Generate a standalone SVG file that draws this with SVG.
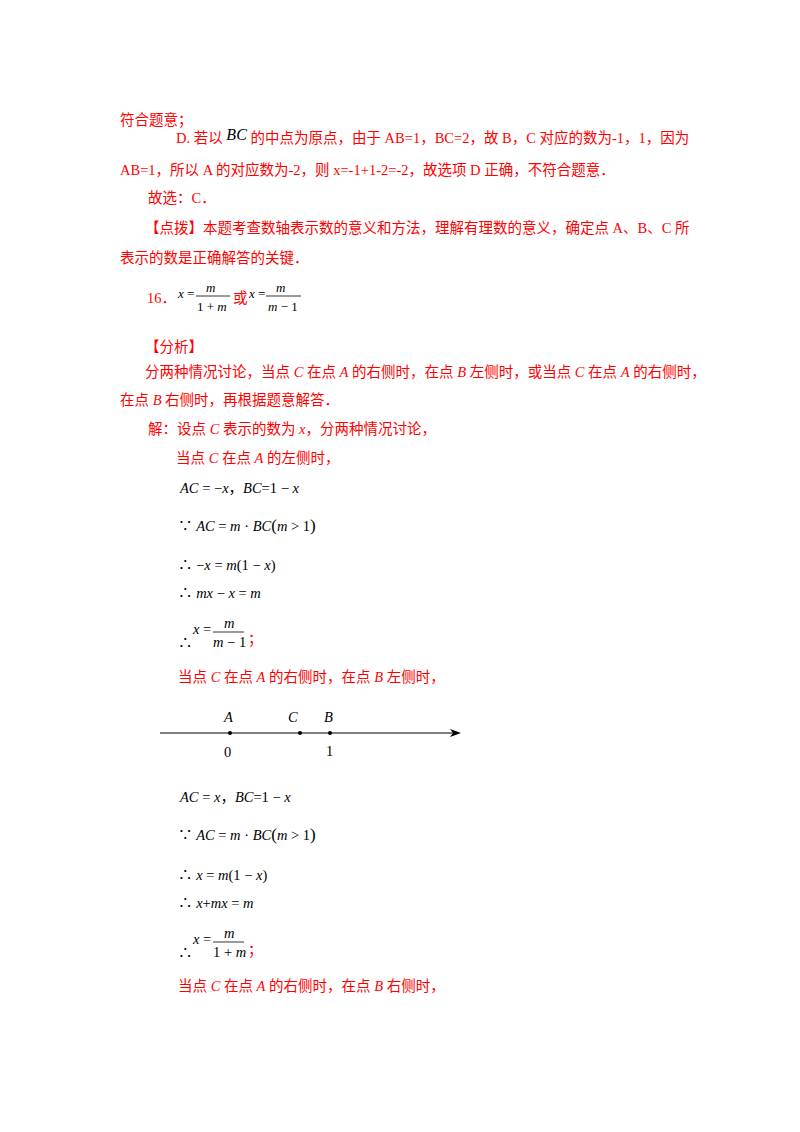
<svg xmlns="http://www.w3.org/2000/svg" width="800" height="1132" viewBox="0 0 800 1132">
<style>
.r{fill:#ff0000;font-family:"Liberation Serif","Noto Sans CJK SC",serif;font-size:14.5px}
.m{fill:#000;font-family:"Liberation Serif","Noto Sans CJK SC",serif;font-size:14.5px}
.s{fill:#000;font-family:"Liberation Serif","Noto Sans CJK SC",serif;font-size:13px}
.i{font-style:italic}
.fl{stroke:#000;stroke-width:0.8}
</style>
<rect width="800" height="1132" fill="#fff"/>
<g id="text-top">
<text class="r" x="120" y="125">符合题意；</text>
<text class="r" x="176" y="143">D. 若以 <tspan class="i" fill="#000" font-size="16" dy="-3">BC</tspan><tspan dy="3"> 的中点为原点，由于 AB=1，BC=2，故 B，C 对应的数为-1，1，因为</tspan></text>
<text class="r" x="120" y="175">AB=1，所以 A 的对应数为-2，则 x=-1+1-2=-2，故选项 D 正确，不符合题意．</text>
<text class="r" x="148" y="203">故选：C．</text>
<text class="r" x="145" y="233">【点拨】本题考查数轴表示数的意义和方法，理解有理数的意义，确定点 A、B、C 所</text>
<text class="r" x="120" y="263">表示的数是正确解答的关键．</text>
<text class="r" x="147" y="303">16．</text>
<text class="s" x="178" y="298"><tspan class="i">x</tspan> =</text>
<text class="s i" x="206" y="292">m</text>
<line class="fl" x1="196" y1="296" x2="230" y2="296"/>
<text class="s" x="197" y="311">1 + <tspan class="i">m</tspan></text>
<text class="r" x="233" y="303">或</text>
<text class="s" x="249" y="298"><tspan class="i">x</tspan> =</text>
<text class="s i" x="276" y="292">m</text>
<line class="fl" x1="266" y1="296" x2="301" y2="296"/>
<text class="s" x="268" y="311"><tspan class="i">m</tspan> − 1</text>
<text class="r" x="145" y="352">【分析】</text>
<text class="r" x="145" y="377">分两种情况讨论，当点 <tspan class="i">C</tspan> 在点 <tspan class="i">A</tspan> 的右侧时，在点 <tspan class="i">B</tspan> 左侧时，或当点 <tspan class="i">C</tspan> 在点 <tspan class="i">A</tspan> 的右侧时，</text>
<text class="r" x="120" y="405">在点 <tspan class="i">B</tspan> 右侧时，再根据题意解答．</text>
<text class="r" x="148" y="434">解：设点 <tspan class="i">C</tspan> 表示的数为 <tspan class="i">x</tspan>，分两种情况讨论，</text>
<text class="r" x="176" y="463">当点 <tspan class="i">C</tspan> 在点 <tspan class="i">A</tspan> 的左侧时，</text>
</g>
<g id="case1">
<text class="m" x="180" y="493"><tspan class="i">AC</tspan> = −<tspan class="i">x</tspan>，<tspan class="i">BC</tspan>=1 − <tspan class="i">x</tspan></text>
<text class="m" x="178" y="531">∵ <tspan class="i">AC</tspan> = <tspan class="i">m</tspan> · <tspan class="i">BC</tspan><tspan font-size="17">(</tspan><tspan class="i">m</tspan> &gt; 1<tspan font-size="17">)</tspan></text>
<text class="m" x="178" y="570">∴ −<tspan class="i">x</tspan> = <tspan class="i">m</tspan>(1 − <tspan class="i">x</tspan>)</text>
<text class="m" x="178" y="598">∴ <tspan class="i">mx</tspan> − <tspan class="i">x</tspan> = <tspan class="i">m</tspan></text>
<text class="m" x="178" y="648">∴</text>
<text class="m" x="193" y="634"><tspan class="i">x</tspan> =</text>
<text class="m i" x="224" y="628">m</text>
<line class="fl" x1="213" y1="632" x2="244" y2="632"/>
<text class="m" x="213" y="647"><tspan class="i">m</tspan> − 1</text>
<text class="r" x="248" y="644">；</text>
<text class="r" x="178" y="682">当点 <tspan class="i">C</tspan> 在点 <tspan class="i">A</tspan> 的右侧时，在点 <tspan class="i">B</tspan> 左侧时，</text>
</g>
<g id="numberline">
<line x1="160" y1="733" x2="455" y2="733" stroke="#000" stroke-width="1.2"/>
<polygon points="461,733 450,729 453,733 450,737" fill="#000"/>
<circle cx="230" cy="733" r="2" fill="#000"/>
<circle cx="300" cy="733" r="2" fill="#000"/>
<circle cx="330" cy="733" r="2" fill="#000"/>
<text class="m i" x="224" y="722" font-size="15">A</text>
<text class="m i" x="288" y="722" font-size="15">C</text>
<text class="m i" x="324" y="722" font-size="15">B</text>
<text class="m" x="224" y="757" font-size="15">0</text>
<text class="m" x="326" y="756" font-size="15">1</text>
</g>
<g id="case2">
<text class="m" x="180" y="802"><tspan class="i">AC</tspan> = <tspan class="i">x</tspan>，<tspan class="i">BC</tspan>=1 − <tspan class="i">x</tspan></text>
<text class="m" x="178" y="840">∵ <tspan class="i">AC</tspan> = <tspan class="i">m</tspan> · <tspan class="i">BC</tspan><tspan font-size="17">(</tspan><tspan class="i">m</tspan> &gt; 1<tspan font-size="17">)</tspan></text>
<text class="m" x="178" y="880">∴ <tspan class="i">x</tspan> = <tspan class="i">m</tspan>(1 − <tspan class="i">x</tspan>)</text>
<text class="m" x="178" y="908">∴ <tspan class="i">x</tspan>+<tspan class="i">mx</tspan> = <tspan class="i">m</tspan></text>
<text class="m" x="178" y="958">∴</text>
<text class="m" x="193" y="944"><tspan class="i">x</tspan> =</text>
<text class="m i" x="224" y="938">m</text>
<line class="fl" x1="213" y1="942" x2="244" y2="942"/>
<text class="m" x="213" y="957">1 + <tspan class="i">m</tspan></text>
<text class="r" x="248" y="955">；</text>
<text class="r" x="178" y="991">当点 <tspan class="i">C</tspan> 在点 <tspan class="i">A</tspan> 的右侧时，在点 <tspan class="i">B</tspan> 右侧时，</text>
</g>
</svg>
